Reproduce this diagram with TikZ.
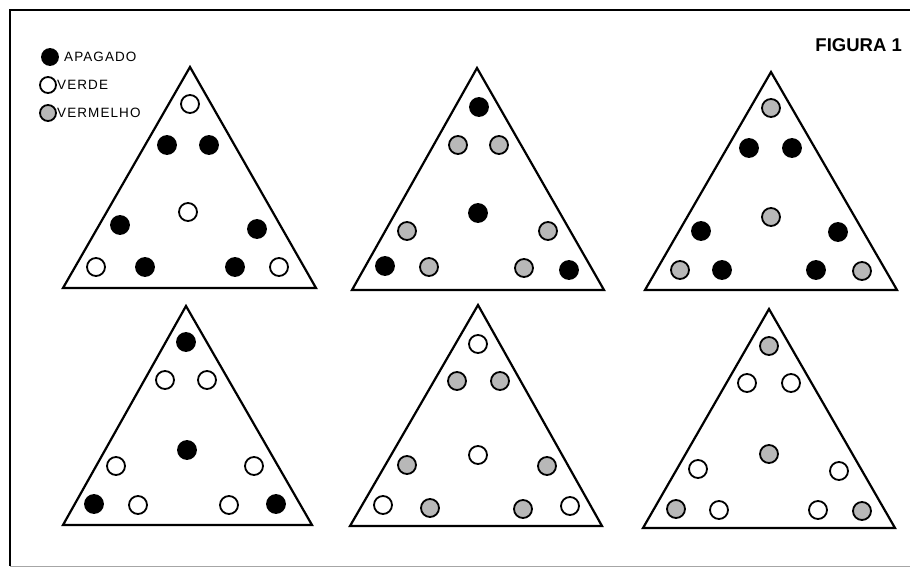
\documentclass[tikz,border=0pt]{standalone}
\usepackage{fontspec}
\setmainfont{Liberation Sans}
\newfontfamily\legfont[LetterSpace=8]{Liberation Sans}
\begin{document}
\begin{tikzpicture}[x=1pt,y=-1pt,
  lamp/.style={circle,inner sep=0pt,minimum size=18pt,line width=1.8pt},
  off/.style={lamp,fill=black,draw=black},
  grn/.style={lamp,draw=black,fill=white},
  red/.style={lamp,draw=black,fill=black!28},
  tri/.style={draw=black,line width=2.2pt,line join=miter},
  legtext/.style={anchor=west,font=\legfont\fontsize{13.5}{15}\selectfont,inner sep=0pt}]
\useasboundingbox (0,0) rectangle (910,568);
% frame
\draw[line width=1.3pt] (910,10) -- (10,10) -- (10,566);
\draw[line width=1pt,black!35] (10,566) -- (910,566);
% title
\node[font=\fontsize{18.5}{20}\selectfont\bfseries,anchor=east,inner sep=0pt] (title) at (902,45) {FIGURA 1};
% legend
\node[off,minimum size=16pt] (lg1) at (50,57) {};
\node[legtext] (lt1) at (64,57) {APAGADO};
\node[grn,minimum size=16pt] (lg2) at (48,85) {};
\node[legtext] (lt2) at (57,85) {VERDE};
\node[red,minimum size=16pt] (lg3) at (48,113) {};
\node[legtext] (lt3) at (57,113) {VERMELHO};
% triangles
\draw[tri] (190,67) -- (63,288) -- (316,288) -- cycle;
\draw[tri] (477,68) -- (352,290) -- (604,290) -- cycle;
\draw[tri] (771,72) -- (645,290) -- (897,290) -- cycle;
\draw[tri] (186,306) -- (63,525) -- (312,525) -- cycle;
\draw[tri] (478,305) -- (350,526) -- (602,526) -- cycle;
\draw[tri] (769,309) -- (643,528) -- (895,528) -- cycle;
% triangle 1
\node[grn] (a1) at (190,104) {};
\node[off] (a2) at (167,145) {};
\node[off] (a3) at (209,145) {};
\node[grn] (a4) at (188,212) {};
\node[off] (a5) at (120,225) {};
\node[off] (a6) at (257,229) {};
\node[grn] (a7) at (96,267) {};
\node[off] (a8) at (145,267) {};
\node[off] (a9) at (235,267) {};
\node[grn] (a10) at (279,267) {};
% triangle 2
\node[off] (b1) at (479,107) {};
\node[red] (b2) at (458,145) {};
\node[red] (b3) at (499,145) {};
\node[off] (b4) at (478,213) {};
\node[red] (b5) at (407,231) {};
\node[red] (b6) at (548,231) {};
\node[off] (b7) at (385,266) {};
\node[red] (b8) at (429,267) {};
\node[red] (b9) at (524,268) {};
\node[off] (b10) at (569,270) {};
% triangle 3
\node[red] (c1) at (771,108) {};
\node[off] (c2) at (749,148) {};
\node[off] (c3) at (792,148) {};
\node[red] (c4) at (771,217) {};
\node[off] (c5) at (701,231) {};
\node[off] (c6) at (838,232) {};
\node[red] (c7) at (680,270) {};
\node[off] (c8) at (722,270) {};
\node[off] (c9) at (816,270) {};
\node[red] (c10) at (862,271) {};
% triangle 4
\node[off] (d1) at (186,342) {};
\node[grn] (d2) at (165,380) {};
\node[grn] (d3) at (207,380) {};
\node[off] (d4) at (187,450) {};
\node[grn] (d5) at (116,466) {};
\node[grn] (d6) at (254,466) {};
\node[off] (d7) at (94,504) {};
\node[grn] (d8) at (138,505) {};
\node[grn] (d9) at (229,505) {};
\node[off] (d10) at (276,504) {};
% triangle 5
\node[grn] (e1) at (478,344) {};
\node[red] (e2) at (457,381) {};
\node[red] (e3) at (500,381) {};
\node[grn] (e4) at (478,455) {};
\node[red] (e5) at (407,465) {};
\node[red] (e6) at (547,466) {};
\node[grn] (e7) at (383,505) {};
\node[red] (e8) at (430,508) {};
\node[red] (e9) at (523,509) {};
\node[grn] (e10) at (570,506) {};
% triangle 6
\node[red] (f1) at (769,346) {};
\node[grn] (f2) at (747,383) {};
\node[grn] (f3) at (791,383) {};
\node[red] (f4) at (769,454) {};
\node[grn] (f5) at (698,469) {};
\node[grn] (f6) at (839,471) {};
\node[red] (f7) at (676,509) {};
\node[grn] (f8) at (719,510) {};
\node[grn] (f9) at (818,510) {};
\node[red] (f10) at (862,511) {};
\end{tikzpicture}
\end{document}
